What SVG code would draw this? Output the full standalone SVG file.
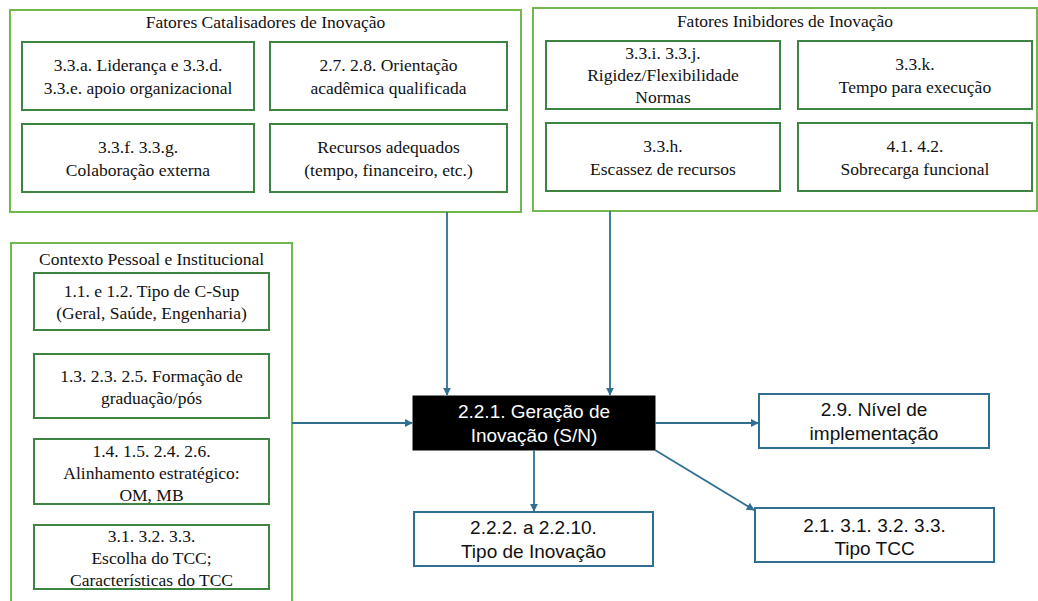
<svg xmlns="http://www.w3.org/2000/svg" width="1038" height="601" viewBox="0 0 1038 601">
<style>
.panel{fill:#fff;stroke:#72b84e;stroke-width:2}
.inner{fill:#fff;stroke:#3e8441;stroke-width:2}
.blue{fill:#fff;stroke:#2f7092;stroke-width:2}
.serif{font-family:"Liberation Serif","Times New Roman",serif;font-size:17.5px;fill:#111;text-anchor:middle}
.sans{font-family:"Liberation Sans",Arial,sans-serif;font-size:19px;fill:#111;text-anchor:middle}
.white{fill:#fff}
.conn{stroke:#2f7092;stroke-width:1.8;fill:none;marker-end:url(#arr)}
</style>
<defs>
<marker id="arr" viewBox="0 0 10 10" refX="9" refY="5" markerWidth="4.5" markerHeight="4.5" orient="auto" markerUnits="strokeWidth">
<path d="M0,0 L10,5 L0,10 z" fill="#2f7092"/>
</marker>
</defs>
<rect width="1038" height="601" fill="#fff"/>

<g id="catalisadores">
<rect class="panel" x="10" y="10" width="511" height="202"/>
<text class="serif" x="265.5" y="28">Fatores Catalisadores de Inovação</text>
<g id="cat-lideranca">
<rect class="inner" x="22" y="42" width="232" height="68"/>
<text class="serif" x="138" y="71">3.3.a. Liderança e 3.3.d.</text>
<text class="serif" x="138" y="94">3.3.e. apoio organizacional</text>
</g>
<g id="cat-orientacao">
<rect class="inner" x="270" y="42" width="237" height="68"/>
<text class="serif" x="388.5" y="71">2.7. 2.8. Orientação</text>
<text class="serif" x="388.5" y="94">acadêmica qualificada</text>
</g>
<g id="cat-colaboracao">
<rect class="inner" x="22" y="124" width="232" height="68"/>
<text class="serif" x="138" y="153">3.3.f. 3.3.g.</text>
<text class="serif" x="138" y="176">Colaboração externa</text>
</g>
<g id="cat-recursos">
<rect class="inner" x="270" y="124" width="237" height="68"/>
<text class="serif" x="388.5" y="153">Recursos adequados</text>
<text class="serif" x="388.5" y="176">(tempo, financeiro, etc.)</text>
</g>
</g>

<g id="inibidores">
<rect class="panel" x="533" y="8" width="504" height="203"/>
<text class="serif" x="785" y="27">Fatores Inibidores de Inovação</text>
<g id="ini-rigidez">
<rect class="inner" x="546" y="41" width="234" height="68"/>
<text class="serif" x="663" y="59">3.3.i. 3.3.j.</text>
<text class="serif" x="663" y="81">Rigidez/Flexibilidade</text>
<text class="serif" x="663" y="103">Normas</text>
</g>
<g id="ini-tempo">
<rect class="inner" x="798" y="41" width="234" height="68"/>
<text class="serif" x="915" y="70">3.3.k.</text>
<text class="serif" x="915" y="93">Tempo para execução</text>
</g>
<g id="ini-escassez">
<rect class="inner" x="546" y="123" width="234" height="68"/>
<text class="serif" x="663" y="152">3.3.h.</text>
<text class="serif" x="663" y="175">Escassez de recursos</text>
</g>
<g id="ini-sobrecarga">
<rect class="inner" x="798" y="123" width="234" height="68"/>
<text class="serif" x="915" y="152">4.1. 4.2.</text>
<text class="serif" x="915" y="175">Sobrecarga funcional</text>
</g>
</g>

<g id="contexto">
<rect class="panel" x="11" y="243" width="281" height="370"/>
<text class="serif" x="151.5" y="265">Contexto Pessoal e Institucional</text>
<g id="ctx-tipo">
<rect class="inner" x="34" y="273" width="235" height="57"/>
<text class="serif" x="151.5" y="297">1.1. e 1.2. Tipo de C-Sup</text>
<text class="serif" x="151.5" y="319">(Geral, Saúde, Engenharia)</text>
</g>
<g id="ctx-formacao">
<rect class="inner" x="34" y="354" width="235" height="64"/>
<text class="serif" x="151.5" y="382">1.3. 2.3. 2.5. Formação de</text>
<text class="serif" x="151.5" y="404">graduação/pós</text>
</g>
<g id="ctx-alinhamento">
<rect class="inner" x="34" y="439" width="235" height="65"/>
<text class="serif" x="151.5" y="457">1.4. 1.5. 2.4. 2.6.</text>
<text class="serif" x="151.5" y="479">Alinhamento estratégico:</text>
<text class="serif" x="151.5" y="501">OM, MB</text>
</g>
<g id="ctx-tcc">
<rect class="inner" x="34" y="525" width="235" height="64"/>
<text class="serif" x="151.5" y="542">3.1. 3.2. 3.3.</text>
<text class="serif" x="151.5" y="564">Escolha do TCC;</text>
<text class="serif" x="151.5" y="586">Características do TCC</text>
</g>
</g>

<g id="geracao">
<rect x="413" y="396" width="242" height="54" fill="#000" stroke="#000" stroke-width="1"/>
<text class="sans white" x="534" y="418">2.2.1. Geração de</text>
<text class="sans white" x="534" y="442">Inovação (S/N)</text>
</g>

<g id="nivel">
<rect class="blue" x="759" y="394" width="230" height="54"/>
<text class="sans" x="874" y="416">2.9. Nível de</text>
<text class="sans" x="874" y="440">implementação</text>
</g>

<g id="tipo-inovacao">
<rect class="blue" x="414" y="512" width="239" height="54"/>
<text class="sans" x="533.5" y="534">2.2.2. a 2.2.10.</text>
<text class="sans" x="533.5" y="558">Tipo de Inovação</text>
</g>

<g id="tipo-tcc">
<rect class="blue" x="755" y="508" width="239" height="54"/>
<text class="sans" x="874.5" y="532">2.1. 3.1. 3.2. 3.3.</text>
<text class="sans" x="874.5" y="555">Tipo TCC</text>
</g>

<g id="connectors">
<line class="conn" x1="447" y1="212" x2="447" y2="395"/>
<line class="conn" x1="610" y1="211" x2="610" y2="395"/>
<line class="conn" x1="292" y1="423" x2="412" y2="423"/>
<line class="conn" x1="655" y1="423" x2="758" y2="423"/>
<line class="conn" x1="534" y1="450" x2="534" y2="511"/>
<line class="conn" x1="655" y1="450" x2="754" y2="510"/>
</g>
</svg>
